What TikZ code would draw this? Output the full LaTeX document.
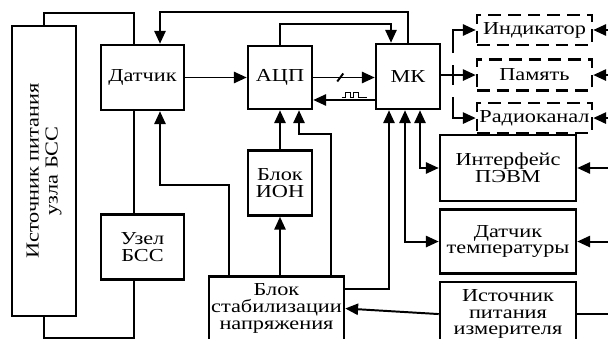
\documentclass[tikz,border=0pt]{standalone}
\usepackage{fontspec}
\setmainfont{Liberation Serif}[FakeStretch=1.22]
\usetikzlibrary{positioning, arrows.meta}

\begin{document}
\begin{tikzpicture}[
        node distance=0.15cm and 0.15cm,
        blk/.style={draw, line width=1.8pt, minimum width=1.6cm, minimum height=1.625cm, align=center, inner sep=1pt, font=\fontsize{13pt}{12pt}\selectfont},
        wide/.style={blk, minimum width=3.4cm},
        opt/.style={blk, dash pattern=on 9pt off 5pt, minimum width=2.875cm, minimum height=0.75cm},
        wire/.style={line width=1.4pt},
        arr/.style={wire, -{Triangle[length=0.32cm, width=0.28cm]}},
        both/.style={wire, {Triangle[length=0.32cm, width=0.28cm]}-{Triangle[length=0.32cm, width=0.28cm]}},
        optline/.style={dash pattern=on 0.25cm off 0.3cm on 5cm}
    ]

    \useasboundingbox (0,0) rectangle (15.2,8.45);
    \clip (0,0) rectangle (15.2,8.45);

    % Power supply of the node (rotated: east is the top, west the bottom)
    \node[blk, rotate=90, minimum width=7.25cm, minimum height=1.6cm, font=\fontsize{13pt}{13.5pt}\selectfont] (src) at (1.1, 4.175) {Источник питания\\узла БСС};

    % Left column
    \node[blk, minimum width=2.075cm] (dat) at (3.5625, 6.5125) {Датчик};
    \node[blk, minimum width=2.075cm, below=2.55cm of dat] (uzel) {Узел\\БСС};

    % Converter, reference and MK
    \node[blk, minimum height=1.575cm] (adc) at (7, 6.5125) {АЦП};
    \node[blk, below=0.975cm of adc] (ion) {Блок\\ИОН};
    \node[blk] (mk) at (10.2, 6.5375) {МК};
    \node[blk, minimum width=3.375cm, minimum height=1.6cm] (stab) at (6.9125, 0.7375) {Блок\\стабилизации\\напряжения};

    % Right column
    \node[wide, minimum height=1.65cm] (intf) at (12.7, 4.25) {Интерфейс\\ПЭВМ};
    \node[wide, minimum height=1.6cm, below=of intf] (temp) {Датчик\\температуры};
    \node[wide, minimum height=1.6cm, below=of temp] (meas) {Источник\\питания\\измерителя};

    % Optional blocks
    \node[opt] (ind) at (13.3625, 7.7) {Индикатор};
    \node[opt, minimum height=0.775cm, below=0.3cm of ind] (mem) {Память};
    \node[opt, below=0.25cm of mem] (radio) {Радиоканал};

    \coordinate (rim) at (15.4, 0);

    % Supply loop of the node
    \draw[wire] (src.east) -- ++(0, 0.3) -| ([xshift=-0.2125cm]dat.north);
    \draw[wire] ([xshift=-0.2125cm]dat.south) -- ([xshift=-0.2125cm]uzel.north);
    \draw[wire] ([xshift=-0.2125cm]uzel.south) -- ++(0, -1.425) -| (src.west);

    % Sensor, converter and MK
    \draw[arr] (mk.north) -- ++(0, 0.775) -| ([xshift=0.4375cm]dat.north);
    \draw[arr] (dat.east) -- (adc.west);
    \draw[arr] (adc.north) -- ++(0, 0.525) -| ([xshift=-0.425cm]mk.north);
    \draw[arr] (adc.east) -- (adc.east -| mk.west);
    \draw[wire] ([xshift=0.675cm]adc.east) ++(-0.075, -0.1) -- ++(0.15, 0.2);
    \draw[arr] ([yshift=-0.5875cm]mk.west) coordinate (clk) -- (clk -| adc.east);
    \draw[line width=0.9pt] ([xshift=-0.825cm, yshift=0.07cm]clk) -- ++(0.1, 0) -- ++(0, 0.11) -- ++(0.125, 0) -- ++(0, -0.11) -- ++(0.075, 0) -- ++(0, 0.11) -- ++(0.125, 0) -- ++(0, -0.11) -- ++(0.2, 0);

    % Lines from the stabiliser
    \draw[arr] ([xshift=-1.1875cm]stab.north) -- ++(0, 2.25) -| ([xshift=0.4375cm]dat.south);
    \draw[arr] (stab.north -| ion.south) -- (ion.south);
    \draw[arr] (ion.north) -- (adc.south);
    \draw[arr] ([xshift=1.3625cm]stab.north) -- ++(0, 3.525) -| ([xshift=0.475cm]adc.south);
    \draw[arr] ([yshift=0.4875cm]stab.east) -| ([xshift=-0.475cm]mk.south);
    \draw[arr] (meas.west) -- (stab.east);
    \draw[wire] (meas.east) -- (meas.east -| rim);

    % MK to PC interface and temperature sensor
    \draw[both] ([xshift=-0.075cm]mk.south) |- (temp.west);
    \draw[both] ([xshift=0.3cm]mk.south) |- (intf.west);

    % MK to optional blocks
    \draw[wire] (mk.east |- mem.west) -- ++(0.3, 0) coordinate (bus);
    \draw[arr, optline] (bus) |- (ind.west);
    \draw[arr, optline] (bus) -- (mem.west);
    \draw[arr, optline] (bus) |- (radio.west);

    % Inputs from the right
    \foreach \n in {ind, mem, radio, intf, temp}
        \draw[arr] (\n.east -| rim) -- (\n.east);

\end{tikzpicture}
\end{document}
